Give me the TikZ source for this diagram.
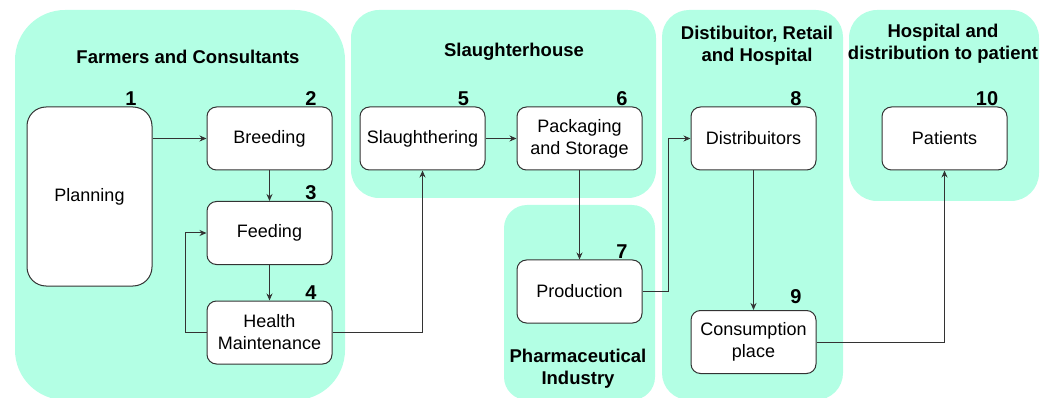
\documentclass[tikz,border=0pt]{standalone}
\usepackage{fontspec}
\setmainfont{Liberation Sans}
\usetikzlibrary{arrows.meta}
\definecolor{mint}{RGB}{179,255,228}
\definecolor{edge}{RGB}{51,51,51}

\begin{document}
\begin{tikzpicture}[x=1pt, y=-1pt,
    region/.style={fill=mint, draw=none},
    stepbox/.style={draw=edge, fill=white, line width=1pt, rounded corners=9.5pt,
      minimum width=125pt, minimum height=63pt, inner sep=0pt, align=center,
      font=\fontsize{18}{22}\selectfont},
    num/.style={font=\fontsize{20}{22}\selectfont\bfseries, inner sep=0pt},
    ttl/.style={font=\fontsize{18.5}{22}\selectfont\bfseries, align=center, inner sep=0pt},
    flow/.style={draw=edge, line width=1pt, -{Stealth[length=7pt, width=6pt]}}]
    \useasboundingbox (0, 0) rectangle (1055, 398);
    \clip (0, 0) rectangle (1055, 398);

    \fill [region, rounded corners=50pt] (15, 10) rectangle (345, 400);
    \fill [region, rounded corners=28pt] (351, 10) rectangle (656, 198);
    \fill [region, rounded corners=23pt] (504, 205) rectangle (655, 400);
    \fill [region, rounded corners=27pt] (662, 10) rectangle (843, 400);
    \fill [region, rounded corners=28pt] (849, 10) rectangle (1039, 201);

    \node [ttl] (t1) at (188, 57) {Farmers and Consultants};
    \node [ttl] (t2) at (514, 52) {Slaughterhouse};
    \node [ttl] (t3) at (578, 369) {Pharmaceutical\\Industry};
    \node [ttl] (t4) at (757, 46) {Distibuitor, Retail\\and Hospital};
    \node [ttl] (t5) at (943, 44) {Hospital and\\distribution to patient};

    \node [stepbox, minimum height=179pt, rounded corners=19pt] (plan) at (89.5, 196.5) {Planning};
    \node [stepbox] (breed) at (269.5, 138.5) {Breeding};
    \node [stepbox] (feed) at (269.5, 233) {Feeding};
    \node [stepbox] (health) at (269.5, 332.5) {Health\\Maintenance};
    \node [stepbox] (slaughter) at (422.5, 138.5) {Slaughthering};
    \node [stepbox] (pack) at (579.5, 138.5) {Packaging\\and Storage};
    \node [stepbox] (prod) at (579.5, 291.5) {Production};
    \node [stepbox] (distr) at (753.5, 138.5) {Distribuitors};
    \node [stepbox] (cons) at (753.5, 342) {Consumption\\place};
    \node [stepbox] (pat) at (944.5, 138.5) {Patients};

    \node [num] (n1) at (131, 99) {1};
    \node [num] (n2) at (311, 99) {2};
    \node [num] (n3) at (311, 193) {3};
    \node [num] (n4) at (311, 293) {4};
    \node [num] (n5) at (463.5, 99) {5};
    \node [num] (n6) at (622, 99) {6};
    \node [num] (n7) at (622, 252) {7};
    \node [num] (n8) at (796, 99) {8};
    \node [num] (n9) at (796, 297) {9};
    \node [num] (n10) at (987, 99) {10};

    \draw [flow] (breed.west -| plan.east) -- (breed.west);
    \draw [flow] (breed.south) -- (feed.north);
    \draw [flow] (feed.south) -- (health.north);
    \draw [flow] (health.west) -- ++(-21, 0) |- (feed.west);
    \draw [flow] (health.east) -| (slaughter.south);
    \draw [flow] (slaughter.east) -- (pack.west);
    \draw [flow] (pack.south) -- (prod.north);
    \draw [flow] (prod.east) -- ++(26, 0) |- (distr.west);
    \draw [flow] (distr.south) -- (cons.north);
    \draw [flow] (cons.east) -| (pat.south);
\end{tikzpicture}
\end{document}
